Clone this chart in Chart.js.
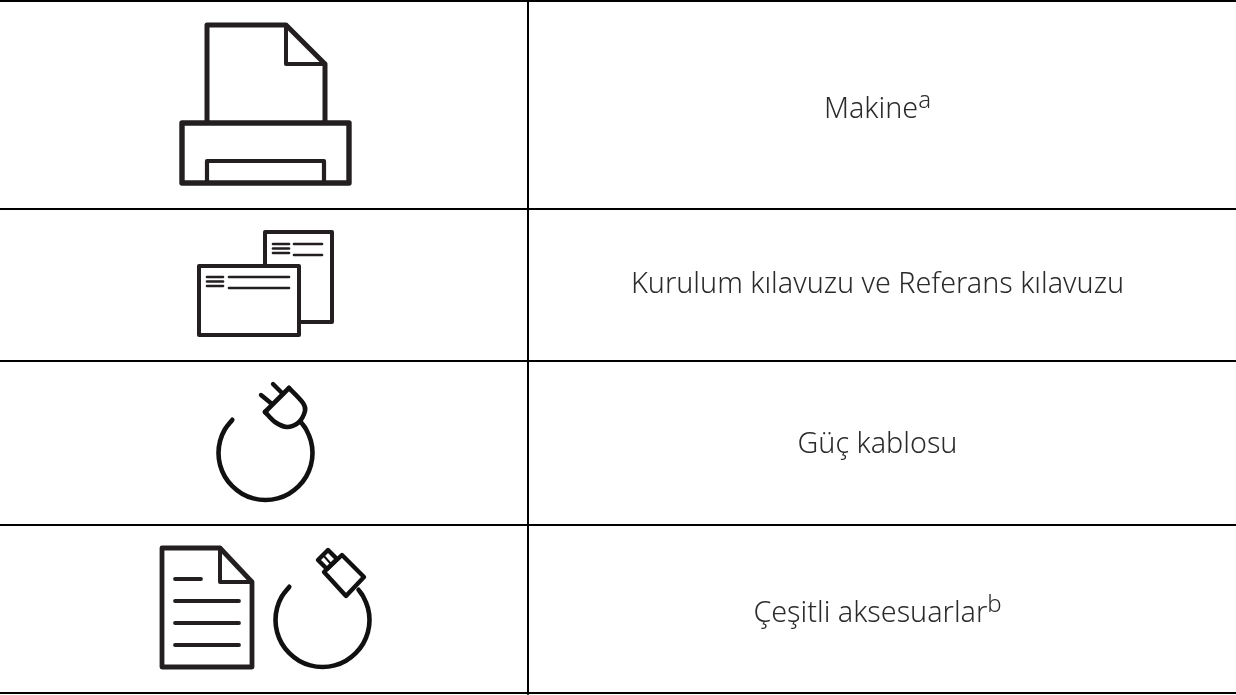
<!DOCTYPE html>
<html>
<head>
<meta charset="utf-8">
<title>Makine</title>
<script src="https://cdn.jsdelivr.net/npm/chart.js@4"></script>
<style>
    html, body { margin: 0; background: #fff; }
    canvas { display: block; }
</style>
</head>
<body>
<canvas id="table-chart" width="1236" height="695"></canvas>
<script>
// Row texts
const rowLabels = ['Makine', 'Kurulum kılavuzu ve Referans kılavuzu', 'Güç kablosu', 'Çeşitli aksesuarlar'];
const rowNotes = ['a', '', '', 'b'];
const rowBaselines = [118, 293, 453, 622];

// Table rules
const ruleRows = [1, 209, 361, 525, 693];
const ruleColumn = [528];

// Printer
const printerPaper = [[207, 121], [207, 25], [286, 25], [325, 64], [325, 121]];
const printerFold = [[286, 25], [286, 64], [325, 64]];
const printerBody = [[182, 123], [349, 123], [349, 183], [182, 183], [182, 123]];
const printerTray = [[207, 183], [207, 161], [324, 161], [324, 183]];

// Guides
const guideBack = [[265, 265], [265, 232], [332, 232], [332, 322], [299, 322]];
const guideFront = [[199, 266], [299, 266], [299, 335], [199, 335], [199, 266]];
const guideBackShort = [[[273, 244], [289, 244]], [[273, 248.5], [289, 248.5]], [[273, 253], [289, 253]]];
const guideBackLong = [[[294, 244], [322, 244]], [[294, 255], [322, 255]]];
const guideFrontShort = [[[207, 277], [223, 277]], [[207, 281.5], [223, 281.5]], [[207, 286], [223, 286]]];
const guideFrontLong = [[[229, 277], [289, 277]], [[229, 288], [289, 288]]];

// Power cable
const powerCord = [[232.3, 419.8], [224.8, 429.5], [220.1, 440.8], [218.5, 453], [220.1, 465.2], [224.8, 476.5], [232.3, 486.2],
    [242, 493.7], [253.3, 498.4], [265.5, 500], [277.7, 498.4], [289, 493.7], [298.7, 486.2], [306.2, 476.5],
    [310.9, 465.2], [312.5, 453], [310.9, 440.8], [306.2, 429.5], [301.5, 422.8]];
const plugFlat = [[265, 412], [289, 388]];
const plugRound = [[289, 388], [303, 403], [305, 411], [298, 423], [287, 427], [275, 422], [265, 412]];
const plugPins = [[[261, 395], [272, 404]], [[273, 384], [283, 394]]];

// Accessories
const sheetOutline = [[162, 548], [220, 548], [252, 582], [252, 667], [162, 667], [162, 548]];
const sheetFold = [[220, 548], [220, 582], [252, 582]];
const sheetLines = [[[175, 579], [201, 579]], [[175, 601], [239, 601]], [[175, 623], [239, 623]], [[175, 645], [239, 645]]];
const usbCord = [[289.3, 586.8], [281.8, 596.5], [277.1, 607.8], [275.5, 620], [277.1, 632.2], [281.8, 643.5], [289.3, 653.2],
    [299, 660.7], [310.3, 665.4], [322.5, 667], [334.7, 665.4], [346, 660.7], [355.7, 653.2], [363.2, 643.5],
    [367.9, 632.2], [369.5, 620], [367.9, 607.8], [363.2, 596.5], [358.5, 589.8]];
const usbBody = [[324, 572], [342, 555], [364, 577], [346, 596], [324, 572]];
const usbTip = [[318, 560], [328, 550], [337, 559], [327, 569], [318, 560]];
const usbTipBar = [[323, 555], [331, 564]];

const ink = '#231f20';

function stroke(points, width, tension = 0, color = ink, cap = 'round') {
    return {
        data: points.map(([x, y]) => ({ x, y })),
        showLine: true,
        borderColor: color,
        borderWidth: width,
        borderCapStyle: cap,
        borderJoinStyle: 'round',
        tension,
        pointRadius: 0,
        clip: false,
    };
}

const datasets = [
    ...ruleRows.map(y => stroke([[0, y], [1236, y]], 2, 0, '#000', 'butt')),
    ...ruleColumn.map(x => stroke([[x, 0], [x, 694]], 2, 0, '#000', 'butt')),
    stroke(printerPaper, 5),
    stroke(printerFold, 4),
    stroke(printerBody, 5.4),
    stroke(printerTray, 4.2),
    stroke(guideBack, 4),
    stroke(guideFront, 4),
    ...guideBackShort.concat(guideBackLong, guideFrontShort, guideFrontLong).map(line => stroke(line, 2.6)),
    stroke(powerCord, 4.6, 0.34, '#111'),
    stroke(plugFlat, 4.6, 0, '#111'),
    stroke(plugRound, 4.6, 0.3, '#111'),
    ...plugPins.map(line => stroke(line, 4.4, 0, '#111')),
    stroke(sheetOutline, 4.8),
    stroke(sheetFold, 4),
    ...sheetLines.map(line => stroke(line, 3.8)),
    stroke(usbCord, 4.6, 0.34, '#111'),
    stroke(usbBody, 4.4, 0, '#111'),
    stroke(usbTip, 4.4, 0, '#111'),
    stroke(usbTipBar, 2, 0, '#111'),
];

// Row texts with their raised notes, centred in the right column
const rowTextPlugin = {
    id: 'rowText',
    afterDatasetsDraw(chart) {
        const { ctx, scales } = chart;
        const mainFont = '300 28.7px "Noto Sans"';
        const noteFont = '300 24px "Noto Sans"';
        ctx.save();
        ctx.fillStyle = '#2b2b2b';
        ctx.textBaseline = 'alphabetic';
        ctx.textAlign = 'left';
        rowLabels.forEach((label, i) => {
            ctx.font = mainFont;
            const labelWidth = ctx.measureText(label).width;
            ctx.font = noteFont;
            const noteWidth = ctx.measureText(rowNotes[i]).width;
            const left = scales.x.getPixelForValue(877.5) - (labelWidth + noteWidth) / 2;
            const baseline = scales.y.getPixelForValue(rowBaselines[i]);
            ctx.font = mainFont;
            ctx.fillText(label, left, baseline);
            ctx.font = noteFont;
            ctx.fillText(rowNotes[i], left + labelWidth, baseline - 10);
        });
        ctx.restore();
    },
};

new Chart(document.getElementById('table-chart'), {
    type: 'scatter',
    data: { datasets },
    options: {
        responsive: false,
        animation: false,
        layout: { padding: 0 },
        plugins: { legend: { display: false }, tooltip: { enabled: false } },
        scales: {
            x: { type: 'linear', display: false, min: 0, max: 1236 },
            y: { type: 'linear', display: false, min: 0, max: 695, reverse: true },
        },
    },
    plugins: [rowTextPlugin],
});
</script>
</body>
</html>
